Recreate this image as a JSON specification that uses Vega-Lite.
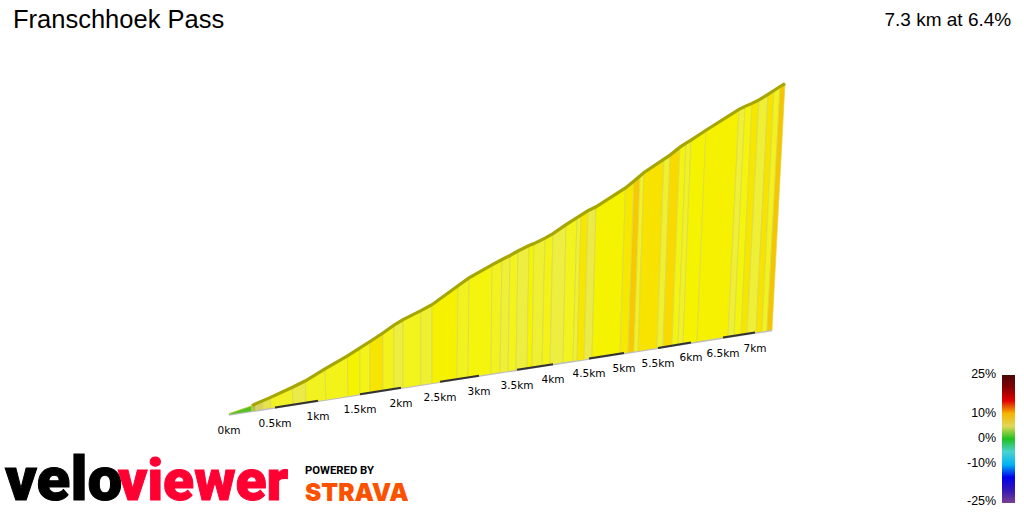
{
  "$schema": "https://vega.github.io/schema/vega-lite/v6.json",
  "description": "Franschhoek Pass climb profile, oblique view, coloured by gradient.",
  "width": 1024,
  "height": 512,
  "padding": 0,
  "autosize": {"type": "fit", "contains": "padding"},
  "background": "white",
  "view": {"stroke": null},
  "datasets": {
    "segments": [
      {"seg": 1, "grade": 0.3, "km": [0, 0, 0.25, 0.25], "m": [190, 192, 208, 197], "corner": [0, 1, 2, 3]},
      {"seg": 2, "grade": 1.5, "km": [0.25, 0.25, 0.293, 0.293], "m": [197, 208, 212, 198], "corner": [0, 1, 2, 3]},
      {"seg": 3, "grade": 4.6, "km": [0.293, 0.293, 0.37, 0.37], "m": [198, 212, 218, 201], "corner": [0, 1, 2, 3]},
      {"seg": 4, "grade": 5.5, "km": [0.37, 0.37, 0.446, 0.457], "m": [201, 218, 224, 203], "corner": [0, 1, 2, 3]},
      {"seg": 5, "grade": 6.6, "km": [0.457, 0.446, 0.703, 0.709], "m": [203, 224, 245, 210], "corner": [0, 1, 2, 3]},
      {"seg": 6, "grade": 5.8, "km": [0.709, 0.703, 0.855, 0.86], "m": [210, 245, 258, 214], "corner": [0, 1, 2, 3]},
      {"seg": 7, "grade": 6.8, "km": [0.86, 0.855, 1.083, 1.095], "m": [214, 258, 282, 220], "corner": [0, 1, 2, 3]},
      {"seg": 8, "grade": 7, "km": [1.095, 1.083, 1.351, 1.357], "m": [220, 282, 308, 227], "corner": [0, 1, 2, 3]},
      {"seg": 9, "grade": 7.6, "km": [1.357, 1.351, 1.5, 1.5], "m": [227, 308, 324, 231], "corner": [0, 1, 2, 3]},
      {"seg": 10, "grade": 7.1, "km": [1.5, 1.5, 1.622, 1.622], "m": [231, 324, 337, 234], "corner": [0, 1, 2, 3]},
      {"seg": 11, "grade": 8.4, "km": [1.622, 1.622, 1.78, 1.78], "m": [234, 337, 354, 238], "corner": [0, 1, 2, 3]},
      {"seg": 12, "grade": 7, "km": [1.78, 1.78, 1.915, 1.915], "m": [238, 354, 370, 242], "corner": [0, 1, 2, 3]},
      {"seg": 13, "grade": 6, "km": [1.915, 1.915, 2.026, 2.026], "m": [242, 370, 381, 244], "corner": [0, 1, 2, 3]},
      {"seg": 14, "grade": 6.9, "km": [2.026, 2.026, 2.256, 2.256], "m": [244, 381, 399, 250], "corner": [0, 1, 2, 3]},
      {"seg": 15, "grade": 6.3, "km": [2.256, 2.256, 2.397, 2.397], "m": [250, 399, 411, 253], "corner": [0, 1, 2, 3]},
      {"seg": 16, "grade": 7.7, "km": [2.397, 2.397, 2.731, 2.718], "m": [253, 411, 449, 261], "corner": [0, 1, 2, 3]},
      {"seg": 17, "grade": 6.8, "km": [2.718, 2.731, 2.872, 2.859], "m": [261, 449, 465, 265], "corner": [0, 1, 2, 3]},
      {"seg": 18, "grade": 7.3, "km": [2.859, 2.872, 3.171, 3.158], "m": [265, 465, 491, 272], "corner": [0, 1, 2, 3]},
      {"seg": 19, "grade": 6.8, "km": [3.158, 3.171, 3.303, 3.276], "m": [272, 491, 502, 275], "corner": [0, 1, 2, 3]},
      {"seg": 20, "grade": 6.2, "km": [3.276, 3.303, 3.408, 3.382], "m": [275, 502, 510, 277], "corner": [0, 1, 2, 3]},
      {"seg": 21, "grade": 6.9, "km": [3.382, 3.408, 3.514, 3.487], "m": [277, 510, 519, 280], "corner": [0, 1, 2, 3]},
      {"seg": 22, "grade": 6, "km": [3.487, 3.514, 3.667, 3.639], "m": [280, 519, 530, 283], "corner": [0, 1, 2, 3]},
      {"seg": 23, "grade": 7.5, "km": [3.639, 3.667, 3.736, 3.708], "m": [283, 530, 534, 285], "corner": [0, 1, 2, 3]},
      {"seg": 24, "grade": 6.3, "km": [3.708, 3.736, 3.889, 3.847], "m": [285, 534, 545, 288], "corner": [0, 1, 2, 3]},
      {"seg": 25, "grade": 7.1, "km": [3.847, 3.889, 4, 3.958], "m": [288, 545, 554, 290], "corner": [0, 1, 2, 3]},
      {"seg": 26, "grade": 6, "km": [3.958, 4, 4.181, 4.139], "m": [290, 554, 572, 295], "corner": [0, 1, 2, 3]},
      {"seg": 27, "grade": 6.9, "km": [4.139, 4.181, 4.333, 4.278], "m": [295, 572, 586, 298], "corner": [0, 1, 2, 3]},
      {"seg": 28, "grade": 6.3, "km": [4.278, 4.333, 4.389, 4.333], "m": [298, 586, 591, 299], "corner": [0, 1, 2, 3]},
      {"seg": 29, "grade": 8.3, "km": [4.333, 4.389, 4.486, 4.431], "m": [299, 591, 600, 301], "corner": [0, 1, 2, 3]},
      {"seg": 30, "grade": 5.8, "km": [4.431, 4.486, 4.6, 4.543], "m": [301, 600, 608, 304], "corner": [0, 1, 2, 3]},
      {"seg": 31, "grade": 7.6, "km": [4.543, 4.6, 5.022, 4.943], "m": [304, 608, 646, 313], "corner": [0, 1, 2, 3]},
      {"seg": 32, "grade": 8.2, "km": [4.943, 5.022, 5.147, 5.059], "m": [313, 646, 660, 315], "corner": [0, 1, 2, 3]},
      {"seg": 33, "grade": 9.5, "km": [5.059, 5.147, 5.235, 5.147], "m": [315, 660, 670, 317], "corner": [0, 1, 2, 3]},
      {"seg": 34, "grade": 6.6, "km": [5.147, 5.235, 5.294, 5.206], "m": [317, 670, 677, 318], "corner": [0, 1, 2, 3]},
      {"seg": 35, "grade": 8.5, "km": [5.206, 5.294, 5.591, 5.485], "m": [318, 677, 704, 324], "corner": [0, 1, 2, 3]},
      {"seg": 36, "grade": 6.3, "km": [5.485, 5.591, 5.682, 5.576], "m": [324, 704, 712, 326], "corner": [0, 1, 2, 3]},
      {"seg": 37, "grade": 8.8, "km": [5.576, 5.682, 5.833, 5.712], "m": [326, 712, 728, 329], "corner": [0, 1, 2, 3]},
      {"seg": 38, "grade": 7.2, "km": [5.712, 5.833, 5.924, 5.803], "m": [329, 728, 736, 331], "corner": [0, 1, 2, 3]},
      {"seg": 39, "grade": 6.5, "km": [5.803, 5.924, 6, 5.879], "m": [331, 736, 742, 332], "corner": [0, 1, 2, 3]},
      {"seg": 40, "grade": 7.6, "km": [5.879, 6, 6.234, 6.094], "m": [332, 742, 762, 337], "corner": [0, 1, 2, 3]},
      {"seg": 41, "grade": 7.7, "km": [6.094, 6.234, 6.75, 6.578], "m": [337, 762, 804, 347], "corner": [0, 1, 2, 3]},
      {"seg": 42, "grade": 6.2, "km": [6.578, 6.75, 6.844, 6.672], "m": [347, 804, 810, 348], "corner": [0, 1, 2, 3]},
      {"seg": 43, "grade": 7.3, "km": [6.672, 6.844, 6.953, 6.781], "m": [348, 810, 816, 351], "corner": [0, 1, 2, 3]},
      {"seg": 44, "grade": 8.3, "km": [6.781, 6.953, 7.07, 6.875], "m": [351, 816, 823, 352], "corner": [0, 1, 2, 3]},
      {"seg": 45, "grade": 6.2, "km": [6.875, 7.07, 7.229, 7.018], "m": [352, 823, 834, 355], "corner": [0, 1, 2, 3]},
      {"seg": 46, "grade": 8.5, "km": [7.018, 7.229, 7.335, 7.123], "m": [355, 834, 842, 357], "corner": [0, 1, 2, 3]},
      {"seg": 47, "grade": 6.8, "km": [7.123, 7.335, 7.441, 7.212], "m": [357, 842, 850, 359], "corner": [0, 1, 2, 3]},
      {"seg": 48, "grade": 9.6, "km": [7.212, 7.441, 7.529, 7.3], "m": [359, 850, 856, 360], "corner": [0, 1, 2, 3]}
    ],
    "ridge": [
      {"km": 0.25, "m": 208}, {"km": 0.293, "m": 212}, {"km": 0.37, "m": 218}, {"km": 0.446, "m": 224},
      {"km": 0.703, "m": 245}, {"km": 0.855, "m": 258}, {"km": 1.083, "m": 282}, {"km": 1.351, "m": 308},
      {"km": 1.5, "m": 324}, {"km": 1.622, "m": 337}, {"km": 1.78, "m": 354}, {"km": 1.915, "m": 370},
      {"km": 2.026, "m": 381}, {"km": 2.256, "m": 399}, {"km": 2.397, "m": 411}, {"km": 2.731, "m": 449},
      {"km": 2.872, "m": 465}, {"km": 3.171, "m": 491}, {"km": 3.303, "m": 502}, {"km": 3.408, "m": 510},
      {"km": 3.514, "m": 519}, {"km": 3.667, "m": 530}, {"km": 3.736, "m": 534}, {"km": 3.889, "m": 545},
      {"km": 4, "m": 554}, {"km": 4.181, "m": 572}, {"km": 4.333, "m": 586}, {"km": 4.389, "m": 591},
      {"km": 4.486, "m": 600}, {"km": 4.6, "m": 608}, {"km": 5.022, "m": 646}, {"km": 5.147, "m": 660},
      {"km": 5.235, "m": 670}, {"km": 5.294, "m": 677}, {"km": 5.591, "m": 704}, {"km": 5.682, "m": 712},
      {"km": 5.833, "m": 728}, {"km": 5.924, "m": 736}, {"km": 6, "m": 742}, {"km": 6.234, "m": 762},
      {"km": 6.75, "m": 804}, {"km": 6.844, "m": 810}, {"km": 6.953, "m": 816}, {"km": 7.07, "m": 823},
      {"km": 7.229, "m": 834}, {"km": 7.335, "m": 842}, {"km": 7.441, "m": 850}, {"km": 7.529, "m": 856}
    ],
    "ticks": [
      {"km": 0, "m": 190, "label": "0km"},
      {"km": 0.5, "m": 204, "label": "0.5km", "km2": 1, "m2": 218},
      {"km": 1, "m": 218, "label": "1km"},
      {"km": 1.5, "m": 231, "label": "1.5km", "km2": 2, "m2": 244},
      {"km": 2, "m": 244, "label": "2km"},
      {"km": 2.5, "m": 256, "label": "2.5km", "km2": 3, "m2": 268},
      {"km": 3, "m": 268, "label": "3km"},
      {"km": 3.5, "m": 280, "label": "3.5km", "km2": 4, "m2": 291},
      {"km": 4, "m": 291, "label": "4km"},
      {"km": 4.5, "m": 303, "label": "4.5km", "km2": 5, "m2": 314},
      {"km": 5, "m": 314, "label": "5km"},
      {"km": 5.5, "m": 324, "label": "5.5km", "km2": 6, "m2": 335},
      {"km": 6, "m": 335, "label": "6km"},
      {"km": 6.5, "m": 345, "label": "6.5km", "km2": 7, "m2": 355},
      {"km": 7, "m": 355, "label": "7km"}
    ],
    "gradeLabels": [
      {"km": 11.25, "m": 271, "label": "25%"},
      {"km": 11.25, "m": 194, "label": "10%"},
      {"km": 11.25, "m": 143, "label": "0%"},
      {"km": 11.25, "m": 92, "label": "-10%"},
      {"km": 11.25, "m": 16, "label": "-25%"}
    ]
  },
  "encoding": {
    "x": {
      "field": "km",
      "type": "quantitative",
      "axis": null,
      "scale": {
        "domain": [-2.489, 0, 0.5, 1, 1.5, 2, 2.5, 3, 3.5, 4, 4.5, 5, 5.5, 6, 6.5, 7, 7.3, 11.74],
        "range": [0, 229, 275, 318, 360, 401, 440, 479, 517, 553, 589, 624, 658, 691, 723, 755, 772, 1024]
      }
    },
    "y": {
      "field": "m",
      "type": "quantitative",
      "axis": null,
      "scale": {"domain": [0, 1024], "nice": false, "zero": false}
    }
  },
  "layer": [
    {
      "data": {"values": [{"km": 0, "m": 190}, {"km": 7.3, "m": 360}]},
      "mark": {"type": "line", "stroke": "#bdbdbd", "strokeWidth": 2.5}
    },
    {
      "data": {"name": "segments"},
      "transform": [{"flatten": ["km", "m", "corner"]}],
      "mark": {"type": "line", "stroke": "#d9d94e", "strokeWidth": 0.7, "strokeJoin": "round"},
      "encoding": {
        "detail": {"field": "seg", "type": "nominal"},
        "order": {"field": "corner", "type": "quantitative"},
        "fill": {
          "field": "grade",
          "type": "quantitative",
          "scale": {
            "domain": [-25, -21.7, -19, -14.5, -11, -7.2, -4.6, -2, 0, 2, 4.6, 6, 6.5, 7.5, 8.5, 9.5, 10.5, 13, 15, 17.8, 25],
            "range": ["#7a3f90", "#5030a0", "#0000c0", "#0000f0", "#00a0f0", "#00e0e0", "#50d0d0", "#60c0a0", "#20c020", "#c8c060", "#d8d060", "#eeee40", "#f1f128", "#f5f500", "#f7e200", "#f8c800", "#f0a000", "#f04000", "#e00000", "#a00000", "#4a0808"]
          },
          "legend": {
            "orient": "none",
            "legendX": 1002,
            "legendY": 375,
            "title": null,
            "gradientLength": 128,
            "gradientThickness": 13,
            "gradientStrokeWidth": 0,
            "labelExpr": "''"
          }
        }
      }
    },
    {
      "data": {"name": "ridge"},
      "mark": {"type": "line", "stroke": "#a6a600", "strokeWidth": 3.2}
    },
    {
      "data": {"name": "ticks"},
      "transform": [{"filter": "datum.km2 != null"}],
      "mark": {"type": "rule", "stroke": "#333333", "strokeWidth": 2},
      "encoding": {
        "x2": {"field": "km2"},
        "y2": {"field": "m2"}
      }
    },
    {
      "data": {"name": "ticks"},
      "mark": {"type": "text", "font": "DejaVu Sans", "fontSize": 10.5, "dy": 16, "color": "#000000"},
      "encoding": {"text": {"field": "label"}}
    },
    {
      "data": {"name": "gradeLabels"},
      "mark": {"type": "text", "font": "Liberation Sans", "fontSize": 12.5, "align": "right", "baseline": "middle", "color": "#000000"},
      "encoding": {"text": {"field": "label"}}
    },
    {
      "data": {"values": [{"km": -2.348, "m": 968, "label": "Franschhoek Pass"}]},
      "mark": {"type": "text", "font": "Liberation Sans", "fontSize": 25.5, "align": "left", "baseline": "alphabetic", "color": "#000000"},
      "encoding": {"text": {"field": "label"}}
    },
    {
      "data": {"values": [{"km": 11.515, "m": 972, "label": "7.3 km at 6.4%"}]},
      "mark": {"type": "text", "font": "Liberation Sans", "fontSize": 19, "align": "right", "baseline": "alphabetic", "color": "#000000"},
      "encoding": {"text": {"field": "label"}}
    },
    {
      "data": {"values": [{"km": -2.435, "m": 18, "label": "velo"}]},
      "mark": {"type": "text", "font": "Roboto", "fontWeight": 900, "fontSize": 62, "align": "left", "baseline": "alphabetic", "color": "#000000", "stroke": "#000000", "strokeWidth": 1},
      "encoding": {"text": {"field": "label"}}
    },
    {
      "data": {"values": [{"km": -1.207, "m": 18, "label": "viewer"}]},
      "mark": {"type": "text", "font": "Roboto", "fontWeight": 900, "fontSize": 57, "align": "left", "baseline": "alphabetic", "color": "#ff0033", "stroke": "#ff0033", "strokeWidth": 1},
      "encoding": {"text": {"field": "label"}}
    },
    {
      "data": {"values": [{"km": 0.849, "m": 70, "label": "POWERED BY"}]},
      "mark": {"type": "text", "font": "Roboto", "fontWeight": 700, "fontSize": 11.3, "align": "left", "baseline": "alphabetic", "color": "#000000"},
      "encoding": {"text": {"field": "label"}}
    },
    {
      "data": {"values": [{"km": 0.849, "m": 16, "label": "STRAVA"}]},
      "mark": {"type": "text", "font": "Inter", "fontWeight": 900, "fontSize": 24.5, "align": "left", "baseline": "alphabetic", "color": "#fc5200"},
      "encoding": {"text": {"field": "label"}}
    }
  ]
}
